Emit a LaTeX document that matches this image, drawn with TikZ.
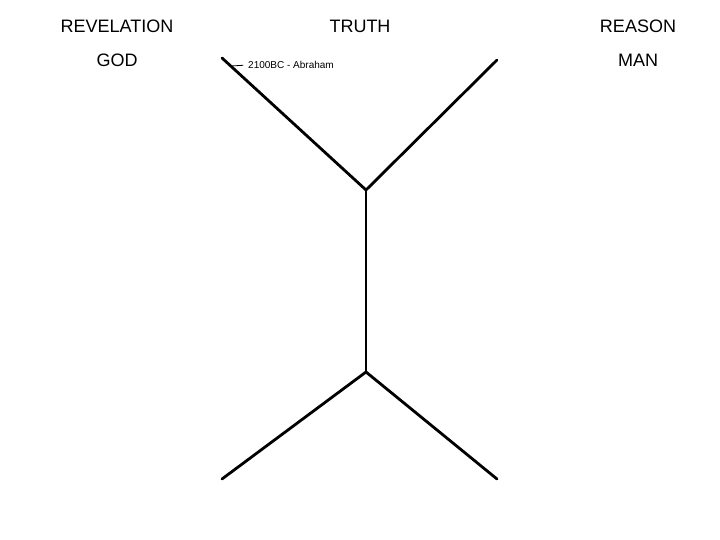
\documentclass[tikz,border=0pt]{standalone}
\usepackage{fontspec}
\setmainfont{Liberation Sans}
\begin{document}
\begin{tikzpicture}[x=1pt,y=-1pt,line join=round,line cap=round,
  arm/.style={line width=2.8pt},
  word/.style={font=\fontsize{18}{20}\selectfont,inner sep=0pt}]
        \useasboundingbox (0,0) rectangle (720,540);
        % headings
        \node[word] (revelation) at (117,26) {REVELATION};
        \node[word] (truth) at (360,26) {TRUTH};
        \node[word] (reason) at (638,26) {REASON};
        \node[word] (god) at (117,60) {GOD};
        \node[word] (man) at (638,60) {MAN};
        % the figure
        \coordinate (ul) at (222,58);
        \coordinate (ur) at (497,60);
        \coordinate (top) at (366,190);
        \coordinate (bot) at (366,372);
        \coordinate (ll) at (222,479);
        \coordinate (lr) at (497,479);
        \draw[arm] (ul)--(top)--(ur);
        \draw[arm] (top)--(bot);
        \draw[arm] (ll)--(bot)--(lr);
        % marker
        \node[font=\fontsize{10}{12}\selectfont,inner sep=0pt,anchor=west] (abraham) at (248,65) {2100BC - Abraham};
        \coordinate (tick) at (231,66);
        \draw[line width=0.8pt,shorten >=5pt] (tick)--(abraham.west);
\end{tikzpicture}
\end{document}
